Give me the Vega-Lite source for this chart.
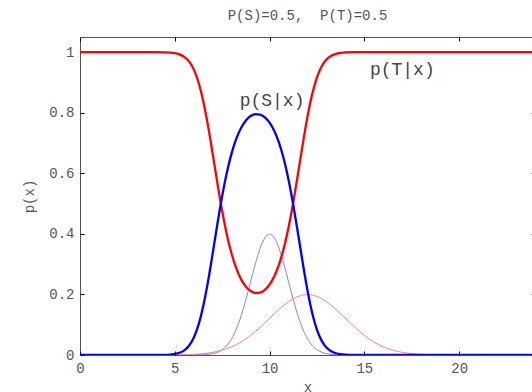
{
  "$schema": "https://vega.github.io/schema/vega-lite/v6.json",
  "autosize": {"type": "none"},
  "padding": {"left": 80, "top": 37, "right": 0, "bottom": 37},
  "width": 455,
  "height": 318,
  "title": {
    "text": "P(S)=0.5,\u00a0 P(T)=0.5",
    "font": "Liberation Mono",
    "fontSize": 14,
    "fontWeight": "normal",
    "color": "#555555",
    "anchor": "middle",
    "offset": 14
  },
  "config": {
    "view": {"stroke": "#555555", "strokeWidth": 1},
    "axis": {
      "labelFont": "Liberation Mono",
      "titleFont": "Liberation Mono",
      "labelFontSize": 14,
      "titleFontSize": 14,
      "titleFontWeight": "normal",
      "labelColor": "#555555",
      "titleColor": "#555555",
      "tickColor": "#000000",
      "labelFlush": false,
      "domain": false,
      "grid": false
    }
  },
  "datasets": {
    "curves": [
      {"curve": "fS", "x": 0, "p": 0},
      {"curve": "fS", "x": 5, "p": 0},
      {"curve": "fS", "x": 6, "p": 0.000134},
      {"curve": "fS", "x": 6.5, "p": 0.000873},
      {"curve": "fS", "x": 7, "p": 0.00443},
      {"curve": "fS", "x": 7.25, "p": 0.00909},
      {"curve": "fS", "x": 7.5, "p": 0.0175},
      {"curve": "fS", "x": 7.75, "p": 0.0317},
      {"curve": "fS", "x": 8, "p": 0.054},
      {"curve": "fS", "x": 8.25, "p": 0.0863},
      {"curve": "fS", "x": 8.5, "p": 0.1295},
      {"curve": "fS", "x": 8.75, "p": 0.1826},
      {"curve": "fS", "x": 9, "p": 0.242},
      {"curve": "fS", "x": 9.25, "p": 0.3011},
      {"curve": "fS", "x": 9.5, "p": 0.3521},
      {"curve": "fS", "x": 9.75, "p": 0.3867},
      {"curve": "fS", "x": 10, "p": 0.3989},
      {"curve": "fS", "x": 10.25, "p": 0.3867},
      {"curve": "fS", "x": 10.5, "p": 0.3521},
      {"curve": "fS", "x": 10.75, "p": 0.3011},
      {"curve": "fS", "x": 11, "p": 0.242},
      {"curve": "fS", "x": 11.25, "p": 0.1826},
      {"curve": "fS", "x": 11.5, "p": 0.1295},
      {"curve": "fS", "x": 11.75, "p": 0.0863},
      {"curve": "fS", "x": 12, "p": 0.054},
      {"curve": "fS", "x": 12.25, "p": 0.0317},
      {"curve": "fS", "x": 12.5, "p": 0.0175},
      {"curve": "fS", "x": 12.75, "p": 0.00909},
      {"curve": "fS", "x": 13, "p": 0.00443},
      {"curve": "fS", "x": 13.5, "p": 0.000873},
      {"curve": "fS", "x": 14, "p": 0.000134},
      {"curve": "fS", "x": 15, "p": 0},
      {"curve": "fS", "x": 24, "p": 0},

      {"curve": "fT", "x": 0, "p": 0},
      {"curve": "fT", "x": 3, "p": 0},
      {"curve": "fT", "x": 4, "p": 0.0000668},
      {"curve": "fT", "x": 5, "p": 0.000436},
      {"curve": "fT", "x": 6, "p": 0.00222},
      {"curve": "fT", "x": 6.5, "p": 0.00455},
      {"curve": "fT", "x": 7, "p": 0.00876},
      {"curve": "fT", "x": 7.5, "p": 0.0159},
      {"curve": "fT", "x": 8, "p": 0.027},
      {"curve": "fT", "x": 8.5, "p": 0.0431},
      {"curve": "fT", "x": 9, "p": 0.0648},
      {"curve": "fT", "x": 9.5, "p": 0.0913},
      {"curve": "fT", "x": 10, "p": 0.121},
      {"curve": "fT", "x": 10.5, "p": 0.1506},
      {"curve": "fT", "x": 11, "p": 0.176},
      {"curve": "fT", "x": 11.5, "p": 0.1933},
      {"curve": "fT", "x": 12, "p": 0.1995},
      {"curve": "fT", "x": 12.5, "p": 0.1933},
      {"curve": "fT", "x": 13, "p": 0.176},
      {"curve": "fT", "x": 13.5, "p": 0.1506},
      {"curve": "fT", "x": 14, "p": 0.121},
      {"curve": "fT", "x": 14.5, "p": 0.0913},
      {"curve": "fT", "x": 15, "p": 0.0648},
      {"curve": "fT", "x": 15.5, "p": 0.0431},
      {"curve": "fT", "x": 16, "p": 0.027},
      {"curve": "fT", "x": 16.5, "p": 0.0159},
      {"curve": "fT", "x": 17, "p": 0.00876},
      {"curve": "fT", "x": 17.5, "p": 0.00455},
      {"curve": "fT", "x": 18, "p": 0.00222},
      {"curve": "fT", "x": 19, "p": 0.000436},
      {"curve": "fT", "x": 20, "p": 0.0000668},
      {"curve": "fT", "x": 21, "p": 0},
      {"curve": "fT", "x": 24, "p": 0},

      {"curve": "pT", "x": 0, "p": 1},
      {"curve": "pT", "x": 3, "p": 1},
      {"curve": "pT", "x": 4, "p": 0.9999},
      {"curve": "pT", "x": 4.5, "p": 0.9994},
      {"curve": "pT", "x": 4.75, "p": 0.9985},
      {"curve": "pT", "x": 5, "p": 0.9966},
      {"curve": "pT", "x": 5.25, "p": 0.9925},
      {"curve": "pT", "x": 5.5, "p": 0.9845},
      {"curve": "pT", "x": 5.75, "p": 0.9694},
      {"curve": "pT", "x": 6, "p": 0.9431},
      {"curve": "pT", "x": 6.25, "p": 0.9007},
      {"curve": "pT", "x": 6.5, "p": 0.839},
      {"curve": "pT", "x": 6.75, "p": 0.7582},
      {"curve": "pT", "x": 7, "p": 0.6642},
      {"curve": "pT", "x": 7.25, "p": 0.5666},
      {"curve": "pT", "x": 7.5, "p": 0.4752},
      {"curve": "pT", "x": 7.75, "p": 0.3965},
      {"curve": "pT", "x": 8, "p": 0.3333},
      {"curve": "pT", "x": 8.25, "p": 0.285},
      {"curve": "pT", "x": 8.5, "p": 0.2498},
      {"curve": "pT", "x": 8.75, "p": 0.2258},
      {"curve": "pT", "x": 9, "p": 0.2111},
      {"curve": "pT", "x": 9.25, "p": 0.2047},
      {"curve": "pT", "x": 9.5, "p": 0.206},
      {"curve": "pT", "x": 9.75, "p": 0.2151},
      {"curve": "pT", "x": 10, "p": 0.2327},
      {"curve": "pT", "x": 10.25, "p": 0.2603},
      {"curve": "pT", "x": 10.5, "p": 0.2996},
      {"curve": "pT", "x": 10.75, "p": 0.3527},
      {"curve": "pT", "x": 11, "p": 0.4211},
      {"curve": "pT", "x": 11.25, "p": 0.5045},
      {"curve": "pT", "x": 11.5, "p": 0.5988},
      {"curve": "pT", "x": 11.75, "p": 0.6964},
      {"curve": "pT", "x": 12, "p": 0.787},
      {"curve": "pT", "x": 12.25, "p": 0.8618},
      {"curve": "pT", "x": 12.5, "p": 0.9169},
      {"curve": "pT", "x": 12.75, "p": 0.9534},
      {"curve": "pT", "x": 13, "p": 0.9754},
      {"curve": "pT", "x": 13.25, "p": 0.9878},
      {"curve": "pT", "x": 13.5, "p": 0.9942},
      {"curve": "pT", "x": 13.75, "p": 0.9974},
      {"curve": "pT", "x": 14, "p": 0.9989},
      {"curve": "pT", "x": 14.5, "p": 0.9998},
      {"curve": "pT", "x": 15, "p": 1},
      {"curve": "pT", "x": 24, "p": 1},

      {"curve": "pS", "x": 0, "p": 0},
      {"curve": "pS", "x": 3, "p": 0},
      {"curve": "pS", "x": 4, "p": 0.0001},
      {"curve": "pS", "x": 4.5, "p": 0.0006},
      {"curve": "pS", "x": 4.75, "p": 0.0015},
      {"curve": "pS", "x": 5, "p": 0.0034},
      {"curve": "pS", "x": 5.25, "p": 0.0075},
      {"curve": "pS", "x": 5.5, "p": 0.0155},
      {"curve": "pS", "x": 5.75, "p": 0.0306},
      {"curve": "pS", "x": 6, "p": 0.0569},
      {"curve": "pS", "x": 6.25, "p": 0.0993},
      {"curve": "pS", "x": 6.5, "p": 0.161},
      {"curve": "pS", "x": 6.75, "p": 0.2418},
      {"curve": "pS", "x": 7, "p": 0.3358},
      {"curve": "pS", "x": 7.25, "p": 0.4334},
      {"curve": "pS", "x": 7.5, "p": 0.5248},
      {"curve": "pS", "x": 7.75, "p": 0.6035},
      {"curve": "pS", "x": 8, "p": 0.6667},
      {"curve": "pS", "x": 8.25, "p": 0.715},
      {"curve": "pS", "x": 8.5, "p": 0.7502},
      {"curve": "pS", "x": 8.75, "p": 0.7742},
      {"curve": "pS", "x": 9, "p": 0.7889},
      {"curve": "pS", "x": 9.25, "p": 0.7953},
      {"curve": "pS", "x": 9.5, "p": 0.794},
      {"curve": "pS", "x": 9.75, "p": 0.7849},
      {"curve": "pS", "x": 10, "p": 0.7673},
      {"curve": "pS", "x": 10.25, "p": 0.7397},
      {"curve": "pS", "x": 10.5, "p": 0.7004},
      {"curve": "pS", "x": 10.75, "p": 0.6473},
      {"curve": "pS", "x": 11, "p": 0.5789},
      {"curve": "pS", "x": 11.25, "p": 0.4955},
      {"curve": "pS", "x": 11.5, "p": 0.4012},
      {"curve": "pS", "x": 11.75, "p": 0.3036},
      {"curve": "pS", "x": 12, "p": 0.213},
      {"curve": "pS", "x": 12.25, "p": 0.1382},
      {"curve": "pS", "x": 12.5, "p": 0.0831},
      {"curve": "pS", "x": 12.75, "p": 0.0466},
      {"curve": "pS", "x": 13, "p": 0.0246},
      {"curve": "pS", "x": 13.25, "p": 0.0122},
      {"curve": "pS", "x": 13.5, "p": 0.0058},
      {"curve": "pS", "x": 13.75, "p": 0.0026},
      {"curve": "pS", "x": 14, "p": 0.0011},
      {"curve": "pS", "x": 14.5, "p": 0.0002},
      {"curve": "pS", "x": 15, "p": 0},
      {"curve": "pS", "x": 24, "p": 0}
    ],
    "labels": [
      {"x": 10.13, "p": 0.84, "label": "p(S|x)"},
      {"x": 17.0, "p": 0.94, "label": "p(T|x)"}
    ]
  },
  "layer": [
    {
      "data": {"name": "curves"},
      "transform": [{"filter": {"field": "curve", "oneOf": ["fS", "fT"]}}],
      "mark": {"type": "line", "interpolate": "monotone", "clip": true, "strokeWidth": 1},
      "encoding": {
        "x": {
          "field": "x", "type": "quantitative",
          "scale": {"domain": [0, 24], "nice": false, "zero": false},
          "axis": {"orient": "bottom", "values": [0, 5, 10, 15, 20], "tickSize": -4, "labelPadding": 10, "title": "x", "titlePadding": 5}
        },
        "y": {
          "field": "p", "type": "quantitative",
          "scale": {"domain": [0, 1.05], "nice": false, "zero": false},
          "axis": {"orient": "left", "values": [0, 0.2, 0.4, 0.6, 0.8, 1], "format": "~g", "tickSize": -4, "labelPadding": 10, "title": "p(x)", "titlePadding": 12}
        },
        "color": {
          "field": "curve", "type": "nominal",
          "scale": {"domain": ["fS", "fT", "pT", "pS"], "range": ["#8080ff", "#ff8080", "#ff0000", "#0000ff"]},
          "legend": null
        }
      }
    },
    {
      "data": {"name": "curves"},
      "transform": [{"filter": {"field": "curve", "oneOf": ["pT", "pS"]}}],
      "mark": {"type": "line", "interpolate": "monotone", "clip": true, "strokeWidth": 2.3},
      "encoding": {
        "x": {"field": "x", "type": "quantitative", "axis": null},
        "y": {"field": "p", "type": "quantitative", "axis": null},
        "color": {"field": "curve", "type": "nominal", "legend": null}
      }
    },
    {
      "data": {"name": "labels"},
      "mark": {"type": "text", "font": "Liberation Mono", "fontSize": 18, "color": "#444444", "align": "center", "baseline": "middle"},
      "encoding": {
        "x": {
          "field": "x", "type": "quantitative",
          "axis": {"orient": "top", "values": [0, 5, 10, 15, 20], "tickSize": -4, "labels": false, "title": null}
        },
        "y": {
          "field": "p", "type": "quantitative",
          "axis": {"orient": "right", "values": [0, 0.2, 0.4, 0.6, 0.8, 1], "tickSize": -4, "labels": false, "title": null}
        },
        "text": {"field": "label"}
      }
    }
  ],
  "resolve": {"axis": {"x": "independent", "y": "independent"}}
}
